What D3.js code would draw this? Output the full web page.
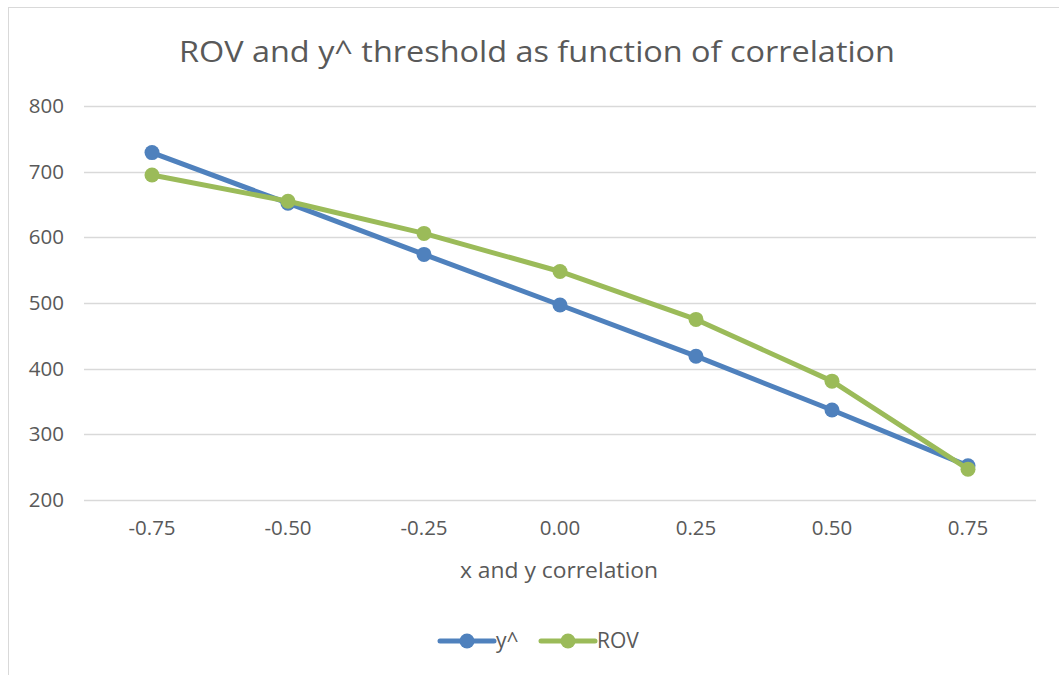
<!DOCTYPE html>
<html><head><meta charset="utf-8">
<script src="https://cdn.jsdelivr.net/npm/d3@7"></script>
<style>body{margin:0;background:#fff}svg{display:block}</style>
</head><body>
<svg id="c" width="1059" height="675"></svg>
<script>
const categories = ["-0.75","-0.50","-0.25","0.00","0.25","0.50","0.75"];
const yHat = [729, 652, 574, 497, 419, 337, 252];
const rov  = [695, 655, 606, 548, 475, 381, 247];
const yTicks = [200,300,400,500,600,700,800];
const seriesNames = ["y^","ROV"];
const colors = ["#4F81BD","#9BBB59"];

const svg = d3.select("#c");
const font = "'Open Sans', 'Noto Sans', sans-serif";
const txt = "#595959";

svg.append("rect").attr("x",8.5).attr("y",7.5).attr("width",1100).attr("height",700)
  .attr("fill","#fff").attr("stroke","#d9d9d9").attr("stroke-width",1);

const x = d3.scaleBand().domain(categories).range([84,1036]);
const y = d3.scaleLinear().domain([200,800]).range([500,106]);

// gridlines
svg.append("g").selectAll("line").data(yTicks).join("line")
  .attr("x1",84).attr("x2",1036)
  .attr("y1",d=>Math.round(y(d))+0.5).attr("y2",d=>Math.round(y(d))+0.5)
  .attr("stroke","#d9d9d9").attr("stroke-width",1.3);

// y axis labels
const ya = svg.append("g").attr("transform","translate(64,0)")
  .call(d3.axisLeft(y).tickValues(yTicks).tickSize(0).tickPadding(0));
ya.select(".domain").remove();
ya.selectAll("text").attr("font-family",font).attr("font-size",20.5).attr("fill",txt);

// x axis labels
const xa = svg.append("g").attr("transform","translate(0,520)")
  .call(d3.axisBottom(x).tickSize(0).tickPadding(0));
xa.select(".domain").remove();
xa.selectAll("text").attr("font-family",font).attr("font-size",20.5).attr("fill",txt).attr("dy","0.71em");

// title
svg.append("text").attr("x",537).attr("y",62).attr("text-anchor","middle")
  .attr("font-family",font).attr("font-size",30).attr("fill",txt)
  .attr("textLength",716).attr("lengthAdjust","spacingAndGlyphs")
  .text("ROV and y^ threshold as function of correlation");

// axis title
svg.append("text").attr("x",559).attr("y",578).attr("text-anchor","middle")
  .attr("font-family",font).attr("font-size",21).attr("fill",txt)
  .attr("textLength",198).attr("lengthAdjust","spacingAndGlyphs")
  .text("x and y correlation");

const cx = d => x(d) + x.bandwidth()/2;
const line = d3.line().x((d,i)=>cx(categories[i])).y(d=>y(d));

[yHat, rov].forEach((s,k)=>{
  const g = svg.append("g");
  g.append("path").datum(s).attr("d",line).attr("fill","none")
    .attr("stroke",colors[k]).attr("stroke-width",5).attr("stroke-linejoin","round").attr("stroke-linecap","round");
  g.selectAll("circle").data(s).join("circle")
    .attr("cx",(d,i)=>cx(categories[i])).attr("cy",d=>y(d)).attr("r",7.5)
    .attr("fill",colors[k]);
});

// legend
const legend = [{x:440,name:seriesNames[0],c:colors[0]},{x:541,name:seriesNames[1],c:colors[1]}];
legend.forEach(l=>{
  const g = svg.append("g");
  g.append("line").attr("x1",l.x).attr("x2",l.x+54).attr("y1",641).attr("y2",641)
    .attr("stroke",l.c).attr("stroke-width",5).attr("stroke-linecap","round");
  g.append("circle").attr("cx",l.x+27).attr("cy",641).attr("r",7.5).attr("fill",l.c);
  g.append("text").attr("x",l.x+56).attr("y",648).attr("font-family",font)
    .attr("font-size",21).attr("fill",txt).text(l.name);
});
</script>
</body></html>
